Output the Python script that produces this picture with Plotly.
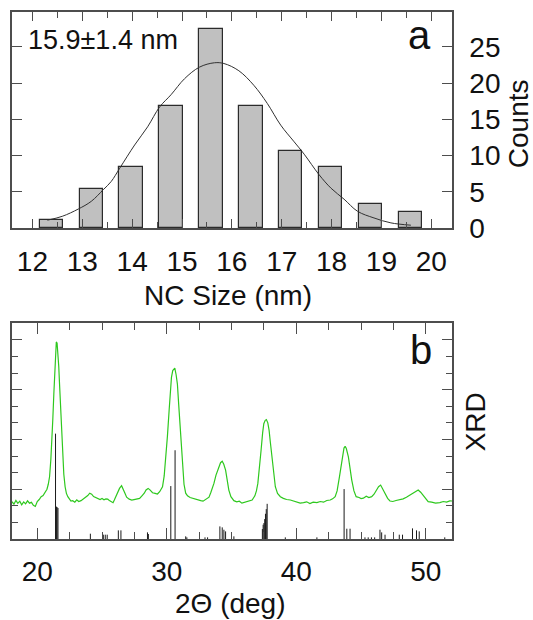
import plotly.graph_objects as go

# ---------------- Panel a: size histogram ----------------
size_centers = [12.38, 13.18, 13.98, 14.78, 15.58, 16.38, 17.18, 17.98, 18.78, 19.58]
size_counts = [1.1, 5.4, 8.5, 16.9, 27.4, 16.9, 10.7, 8.5, 3.3, 2.2]

fit_x = [12.3, 12.6, 12.92, 13.18, 13.42, 13.58, 13.75, 14.05, 14.31, 14.55, 14.78,
         15.05, 15.35, 15.65, 15.84, 16.14, 16.44, 16.71, 16.98, 17.25, 17.45, 17.75,
         17.99, 18.25, 18.52, 18.85, 19.19, 19.59]
fit_y = [1.1, 1.64, 2.64, 3.7, 5.3, 6.44, 8.26, 11.47, 13.97, 16.7, 18.4,
         20.6, 22.2, 22.8, 22.7, 21.7, 19.7, 17.2, 14.2, 11.9, 10.2, 7.36,
         5.5, 4.0, 2.33, 1.41, 0.73, 0.41]

size_ticks = [12, 13, 14, 15, 16, 17, 18, 19, 20]
count_ticks = [0, 5, 10, 15, 20, 25]

# ---------------- Panel b: XRD ----------------
xrd_2theta = [18.05, 18.2, 18.35, 18.5, 18.65, 18.8, 18.95, 19.1, 19.25, 19.4, 19.55, 19.7, 19.85,
              20.0, 20.15, 20.3, 20.45, 20.6, 20.75, 20.85, 20.95, 21.05, 21.13, 21.2, 21.28,
              21.35, 21.41, 21.47, 21.53, 21.59, 21.66, 21.72, 21.78, 21.85, 21.91, 21.97, 22.05,
              22.15, 22.25, 22.36, 22.5, 22.6, 22.74, 22.9, 23.05, 23.2, 23.38, 23.55, 23.75,
              23.9, 24.05, 24.2, 24.35, 24.5, 24.67, 24.85, 25.0, 25.15, 25.3, 25.44, 25.6,
              25.75, 25.85, 25.95, 26.1, 26.21, 26.35, 26.51, 26.65, 26.77, 26.9, 27.1, 27.3,
              27.5, 27.74, 27.9, 28.1, 28.26, 28.4, 28.56, 28.7, 28.9, 29.1, 29.28, 29.45,
              29.6, 29.67, 29.8, 29.92, 30.05, 30.18, 30.28, 30.36, 30.46, 30.56, 30.62, 30.72,
              30.82, 30.92, 31.03, 31.12, 31.21, 31.33, 31.46, 31.6, 31.8, 31.97, 32.15, 32.35,
              32.62, 32.8, 33.0, 33.15, 33.26, 33.4, 33.52, 33.64, 33.8, 33.94, 34.03, 34.15,
              34.28, 34.4, 34.54, 34.66, 34.79, 34.95, 35.18, 35.4, 35.6, 35.8, 35.95, 36.15,
              36.35, 36.59, 36.8, 36.92, 37.03, 37.15, 37.28, 37.4, 37.49, 37.6, 37.69, 37.8,
              37.9, 38.0, 38.13, 38.25, 38.38, 38.55, 38.77, 39.0, 39.25, 39.54, 39.8, 40.05,
              40.3, 40.56, 40.8, 41.05, 41.3, 41.59, 41.85, 42.1, 42.35, 42.62, 42.8, 43.0,
              43.15, 43.33, 43.45, 43.59, 43.68, 43.77, 43.86, 44.02, 44.15, 44.28, 44.45, 44.62,
              44.85, 45.0, 45.18, 45.4, 45.6, 45.82, 46.0, 46.21, 46.35, 46.51, 46.65, 46.85,
              47.05, 47.23, 47.45, 47.7, 48.0, 48.25, 48.5, 48.77, 49.0, 49.2, 49.41, 49.6,
              49.79, 50.0, 50.18, 50.45, 50.75, 51.08, 51.35, 51.6, 51.85, 52.02]
xrd_intensity = [225, 210, 232, 215, 228, 206, 224, 212, 230, 216, 221, 203, 196,
                 226, 238, 255, 262, 285, 300, 330, 375, 480, 575, 720, 875,
                 1030, 1134, 1188, 1180, 1134, 1040, 934, 820, 715, 600, 495, 390,
                 315, 275, 255, 240, 228, 231, 222, 236, 226, 231, 240, 250,
                 262, 276, 270, 256, 250, 246, 238, 244, 236, 242, 240, 230,
                 222, 219, 235, 262, 285, 305, 321, 300, 276, 252, 240, 235,
                 238, 240, 245, 262, 276, 296, 305, 296, 279, 275, 271, 285,
                 305, 315, 380, 475, 620, 775, 900, 974, 1015, 1030, 1030, 990,
                 934, 810, 675, 540, 415, 330, 276, 260, 250, 246, 238, 234,
                 231, 228, 240, 246, 252, 280, 305, 335, 385, 420, 435, 460,
                 469, 450, 415, 360, 295, 255, 231, 224, 228, 216, 219, 226,
                 230, 235, 260, 290, 335, 420, 535, 640, 695, 715, 720, 700,
                 655, 580, 475, 390, 315, 275, 255, 245, 238, 235, 228, 224,
                 216, 219, 224, 214, 222, 219, 226, 222, 232, 235, 242, 255,
                 290, 375, 440, 515, 548, 559, 545, 495, 420, 355, 290, 255,
                 250, 244, 246, 258, 250, 255, 270, 295, 315, 325, 305, 276,
                 245, 229, 226, 232, 235, 242, 252, 265, 275, 285, 295, 282,
                 265, 245, 225, 222, 216, 219, 226, 222, 230, 229]

ref_2theta = [21.41, 21.48, 21.53, 21.6, 24.1, 25.1, 25.25, 25.4, 26.26, 26.46, 28.51, 28.58,
              30.31, 30.64, 31.46, 31.55, 32.95, 33.15, 34.1, 34.28, 34.41, 34.54, 35.18,
              37.38, 37.44, 37.5, 37.56, 37.62, 37.68, 37.75, 39.15, 41.59, 43.69, 43.9,
              44.15, 45.3, 45.55, 45.8, 46.05, 46.46, 46.59, 46.85, 47.95, 48.2, 48.97,
              49.28, 49.49, 51.46]
ref_intensity = [635, 195, 192, 187, 32, 26, 26, 26, 52, 52, 40, 30,
                 319, 535, 16, 10, 10, 10, 76, 70, 56, 46, 16,
                 60, 86, 96, 120, 152, 180, 212, 10, 10, 301, 62,
                 62, 10, 10, 10, 10, 56, 40, 26, 26, 26, 64,
                 52, 46, 10]

theta_ticks = [20, 30, 40, 50]

# stick pattern built from the reference arrays
stick_x, stick_y = [], []
for p, h in zip(ref_2theta, ref_intensity):
    stick_x += [p, p, None]
    stick_y += [0, h, None]

FONT = "Liberation Sans, Arial, sans-serif"
AX = "#4d4d4d"

fig = go.Figure()
fig.add_trace(go.Bar(x=size_centers, y=size_counts, width=0.47,
                     marker=dict(color="#c0c0c0", line=dict(color="#2b2b2b", width=1.2)),
                     xaxis="x", yaxis="y", showlegend=False))
fig.add_trace(go.Scatter(x=fit_x, y=fit_y, mode="lines",
                         line=dict(color="#303030", width=1, shape="spline"),
                         xaxis="x", yaxis="y", showlegend=False))
fig.add_trace(go.Scatter(x=xrd_2theta, y=xrd_intensity, mode="lines",
                         line=dict(color="#2ec81e", width=1.2),
                         xaxis="x2", yaxis="y2", showlegend=False))
fig.add_trace(go.Scatter(x=stick_x, y=stick_y, mode="lines",
                         line=dict(color="#1a1a1a", width=1),
                         xaxis="x2", yaxis="y2", showlegend=False))

common = dict(showline=True, linecolor=AX, linewidth=1.5, mirror="ticks",
              ticks="inside", tickcolor=AX, tickwidth=1.2, showgrid=False, zeroline=False,
              tickfont=dict(family=FONT, size=28, color="#111"))

fig.update_layout(
    width=533, height=620,
    margin=dict(l=11, r=81, t=10, b=81),
    paper_bgcolor="white", plot_bgcolor="white",
    bargap=0,
    xaxis=dict(domain=[0, 1], anchor="y", range=[11.59, 20.415],
               tickvals=size_ticks, ticklen=9, ticklabelstandoff=7,
               minor=dict(dtick=0.5, tick0=0, ticks="inside", ticklen=6,
                          tickcolor=AX, tickwidth=1.2), **common),
    yaxis=dict(domain=[0.5898, 1], anchor="x", side="right", range=[0, 29.8],
               tickvals=count_ticks, ticklen=10, ticklabelstandoff=10, **common),
    xaxis2=dict(domain=[0, 1], anchor="y2", range=[18.05, 52.02],
                tickvals=theta_ticks, ticklen=11, ticklabelstandoff=7,
                minor=dict(dtick=2.5, tick0=0, ticks="inside", ticklen=7,
                           tickcolor=AX, tickwidth=1.2), **common),
    yaxis2=dict(domain=[0, 0.4102], anchor="x2", side="right", range=[0, 1303],
                dtick=300, tick0=0, ticklen=10, showticklabels=False,
                minor=dict(dtick=100, tick0=0, ticks="inside", ticklen=6,
                           tickcolor=AX, tickwidth=1.2), **common),
)

def ann(text, x, y, size, xanchor="center", yanchor="middle", angle=0):
    fig.add_annotation(text=text, x=x, y=y, xref="paper", yref="paper",
                       xanchor=xanchor, yanchor=yanchor, textangle=angle,
                       showarrow=False, font=dict(family=FONT, size=size, color="#111"))

ann("15.9±1.4 nm", 0.0317, 0.946, 27, xanchor="left")
ann("a", 0.957, 0.9565, 40, xanchor="right")
ann("b", 0.958, 0.3584, 40, xanchor="right")
ann("NC Size (nm)", 0.492, 0.4612, 28)
ann("2Θ (deg)", 0.4977, -0.1229, 28)
ann("Counts", 1.1497, 0.7888, 28, angle=-90)
ann("XRD", 1.0528, 0.2218, 28, angle=-90)

fig.write_html("out.html", config={"displayModeBar": False},
               post_script="document.body.style.margin='0';document.body.style.overflow='hidden';")
